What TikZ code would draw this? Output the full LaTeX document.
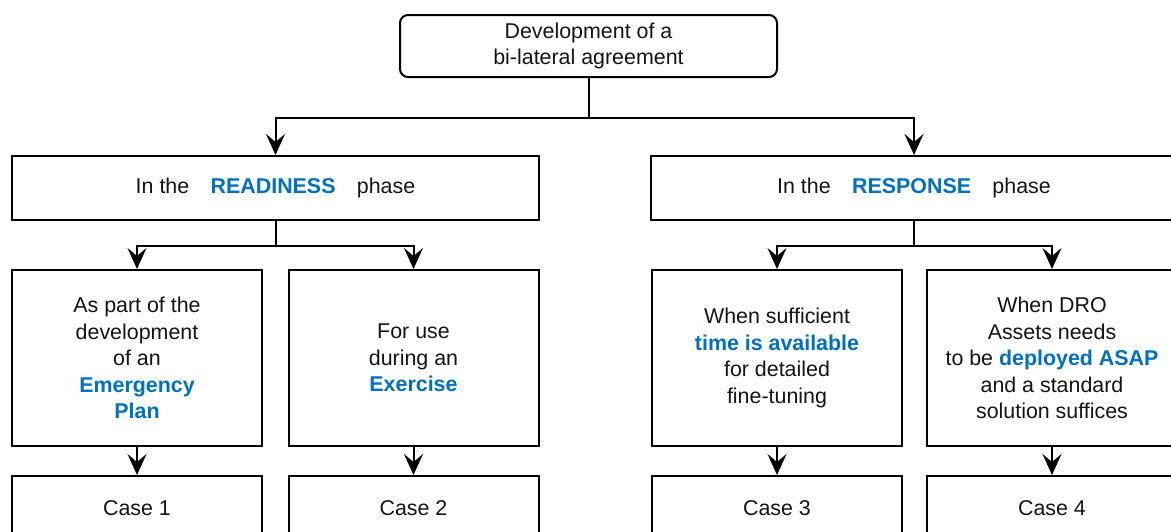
\documentclass[tikz,border=0pt]{standalone}
\usepackage{fontspec}
\setmainfont{Liberation Sans}
\usetikzlibrary{arrows.meta}
\definecolor{accent}{HTML}{0070C0}
\definecolor{ink}{HTML}{141414}
\newcommand{\hl}[1]{\textbf{\textcolor{accent}{#1}}}
\begin{document}
\begin{tikzpicture}[x=1pt,y=-1pt,
  every node/.style={text=ink, font=\fontsize{21.4}{26.5}\selectfont},
  box/.style={draw=black, line width=2pt, align=center, inner sep=0pt},
  rootbox/.style={box, rounded corners=8pt, minimum width=377pt, minimum height=62pt},
  phasebox/.style={box, minimum width=527pt, minimum height=64pt},
  usebox/.style={box, minimum width=250pt, minimum height=176pt},
  casebox/.style={box, minimum width=250pt, minimum height=64pt},
  link/.style={draw=black, line width=2pt},
  arr/.style={link, -{Stealth[length=21pt,width=19pt,inset=8pt]}}
]
\useasboundingbox (0,0) rectangle (1171,531);
\clip (0,0) rectangle (1171,531);

% root
\node[rootbox] (root) at (588.5,46) {Development of a\\bi-lateral agreement};

% phases
\node[phasebox] (ready) at (275.5,188) {In the\hspace{1em}\hl{READINESS}\hspace{1em}phase};
\node[phasebox] (resp)  at (914,188)   {In the\hspace{1em}\hl{RESPONSE}\hspace{1em}phase};

% situations
\node[usebox] (emerg) at (137,358)   {As part of the\\development\\of an\\\hl{Emergency}\\\hl{Plan}};
\node[usebox] (exer)  at (413.5,358) {For use\\during an\\\hl{Exercise}};
\node[usebox] (time)  at (777,358)   {When sufficient\\\hl{time is available}\\for detailed\\fine-tuning};
\node[usebox] (asap)  at (1052,358)  {When DRO\\Assets needs\\to be \hl{deployed ASAP}\\and a standard\\solution suffices};

% cases
\node[casebox] (c1) at (137,508)   {Case 1};
\node[casebox] (c2) at (413.5,508) {Case 2};
\node[casebox] (c3) at (777,508)   {Case 3};
\node[casebox] (c4) at (1052,508)  {Case 4};

% tree connectors
\draw[link] (root.south) -- ++(0,40) coordinate (rbus);
\draw[arr] (rbus) -| (ready.north);
\draw[arr] (rbus) -| (resp.north);

\draw[link] (ready.south) -- ++(0,25) coordinate (abus);
\draw[arr] (abus) -| (emerg.north);
\draw[arr] (abus) -| (exer.north);

\draw[link] (resp.south) -- ++(0,25) coordinate (bbus);
\draw[arr] (bbus) -| (time.north);
\draw[arr] (bbus) -| (asap.north);

\draw[arr] (emerg.south) -- (c1.north);
\draw[arr] (exer.south)  -- (c2.north);
\draw[arr] (time.south)  -- (c3.north);
\draw[arr] (asap.south)  -- (c4.north);
\end{tikzpicture}
\end{document}
